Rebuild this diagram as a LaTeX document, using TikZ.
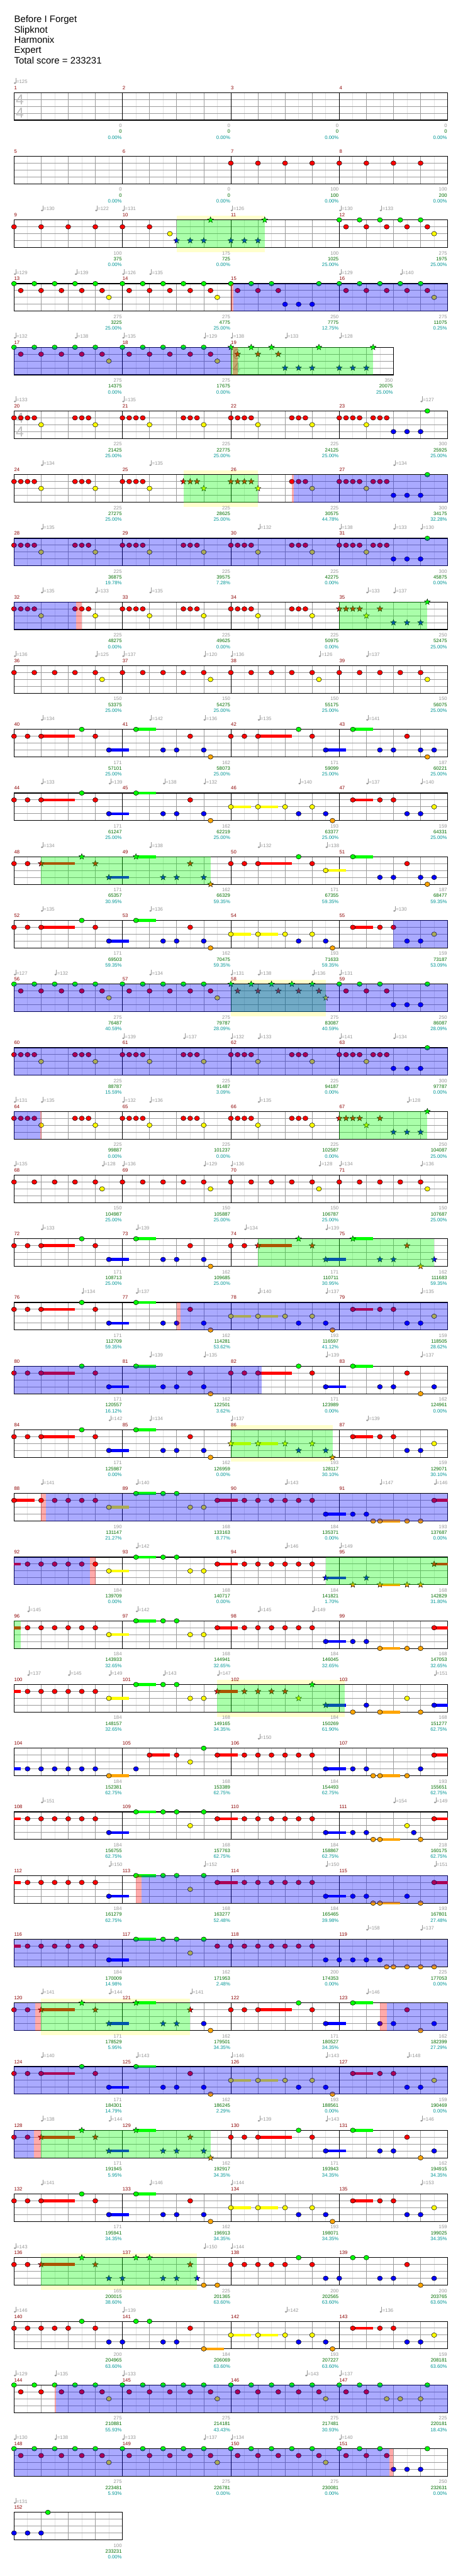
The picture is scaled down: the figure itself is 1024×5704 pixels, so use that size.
\documentclass[tikz,border=0pt]{standalone}
\usepackage{fontspec}
\setmainfont{Liberation Sans}
\usetikzlibrary{shapes.geometric}

\definecolor{c0}{RGB}{0,255,0}
\definecolor{c1}{RGB}{255,0,0}
\definecolor{c2}{RGB}{255,255,0}
\definecolor{c3}{RGB}{0,0,255}
\definecolor{c4}{RGB}{255,165,0}
\definecolor{gridlight}{RGB}{226,226,226}
\definecolor{gridmid}{RGB}{155,155,155}
\definecolor{measred}{RGB}{140,0,0}
\definecolor{labelgray}{RGB}{150,150,150}
\definecolor{scoregreen}{RGB}{0,110,0}
\definecolor{pcteal}{RGB}{0,150,150}
\definecolor{tsiggray}{RGB}{190,190,190}
\definecolor{bandyellow}{RGB}{255,255,204}

\tikzset{
  note/.style={ellipse, draw=black, line width=0.35pt, inner sep=0pt, minimum width=5.6pt, minimum height=5.1pt},
  spnote/.style={star, star points=5, star point ratio=2.3, draw=black, line width=0.3pt, inner sep=0pt, minimum size=6.8pt},
  halfline/.style={draw=gridlight, line width=0.5pt},
  beatline/.style={draw=gridmid, line width=0.5pt},
  laneline/.style={draw=gridmid, line width=0.7pt},
  barline/.style={draw=black, line width=0.5pt},
  border/.style={draw=black, line width=0.75pt},
  small/.style={inner sep=0pt, font=\fontsize{5.4}{6}\selectfont},
  mnum/.style={small, anchor=base west, text=measred},
  tempo/.style={small, anchor=base west, text=labelgray},
  sgray/.style={small, anchor=base east, text=labelgray},
  sgreen/.style={small, anchor=base east, text=scoregreen},
  spct/.style={small, anchor=base east, text=pcteal},
  title/.style={anchor=base west, inner sep=0pt, font=\fontsize{10.4}{12}\selectfont},
  tsig/.style={inner sep=0pt, text=tsiggray, font=\fontsize{16}{16}\selectfont},
  odfill/.style={fill=c3, fill opacity=0.333},
  spfill/.style={fill=c0, fill opacity=0.333},
  actfill/.style={fill=c1, fill opacity=0.333},
  bandfill/.style={fill=bandyellow}
}

% note patterns, beat/lane (lane 0 = green ... 4 = orange)
\newcommand{\pA}{0/0,0.75/0,1.5/0,2.25/0,3/0,0.25/1,1/1,1.75/1,2.5/1,3.25/1,3.5/2}
\newcommand{\pB}{0/1,0.25/1,0.5/1,0.75/1,1/2,2.25/1,2.5/1,2.75/1,3/2}
\newcommand{\pBa}{0/1,0.25/1,0.5/1,0.75/1,1/2}
\newcommand{\pBb}{2.25/1,2.5/1,2.75/1,3/2}
\newcommand{\pC}{0/1,0.25/1,0.5/1,0.75/1,1/2,1.25/1,1.5/1,1.75/1,2/3,2.5/3,3/3,3.25/0}
\newcommand{\pD}{0/1,0.75/1,1.5/1,2.25/1,3/1,3.25/2}
\newcommand{\pG}{0/0,0.75/0,1.5/0,0.25/1,1/1,1.75/1,2/3,2.5/3,3/3,3.25/0}
\newcommand{\pS}{0/1,0.25/1,0.5/1,0.75/1,1/2,1.5/1,2/3,2.5/3,3/3,3.25/0}
\newcommand{\pEa}{0/1,0.5/1}
\newcommand{\pEb}{1/1,2.5/0,3/1,3.5/3,4.5/0,5.5/3,6/3,6.5/1,7/3,7.25/4}
\newcommand{\pEc}{1/1,2.5/0,3/1,3.5/3,4.5/0,5.5/3,6/3,6.5/1,7/4,7.5/3}
\newcommand{\pEs}{1/1/2.25,3.5/3/4.25,4.5/0/5.25}
\newcommand{\pFa}{0/2,1/2,2/2,2.5/3,3/2,3.5/3,3.75/4}
\newcommand{\pFb}{4.5/1,5.5/1,6/1,6.5/3,7/3,7.5/2}
\newcommand{\pFs}{0/2/0.75,1/2/1.75,4.5/1/5.25}
\newcommand{\pH}{0.5/1,1/1,1.5/1,2/1,2.5/1,3/1,3.5/2,4.5/0,5.5/0,6/0,6.5/2,7/2,7.5/1,8.5/1,9/1,9.5/1,10/1,10.5/1,11/1,11.5/3,12.5/3,13/3,13.5/4,14.5/4,15/4,15.5/1}
\newcommand{\pHs}{0/1/0.25,3.5/2/4.25,4.5/0/5.25,7.5/1/8.25,11.5/3/12.25,13.5/4/14.25,15.5/1/16}

\newcommand{\rowY}[1]{\pgfmathsetmacro{\Y}{205+141*(#1-1)}}

% staff: row, beats, first measure
\newcommand{\staffrow}[3]{%
  \rowY{#1}%
  \pgfmathsetmacro{\W}{31+60*#2}%
  \pgfmathtruncatemacro{\nh}{2*#2}%
  \pgfmathtruncatemacro{\nm}{floor(#2/4)}%
  \fill[white] (31,\Y) rectangle (\W,\Y+61);
  \foreach \i in {1,...,\nh} \draw[halfline] ({31+30*\i},\Y) -- ++(0,61);
  \foreach \i in {1,...,#2} \draw[beatline] ({31+60*\i},\Y) -- ++(0,61);
  \foreach \i in {1,2,3} \draw[laneline] (31,\Y+15.25*\i) -- (\W,\Y+15.25*\i);
  \foreach \i in {1,...,\nm} {
    \pgfmathtruncatemacro{\mn}{#3+\i-1}
    \draw[barline] ({31+240*(\i-1)},\Y) -- ++(0,61);
    \node[mnum, name=m\mn] at ({31+240*(\i-1)},\Y-7) {\mn};
  }
  \draw[border] (31,\Y) rectangle (\W,\Y+61);
}
\newcommand{\tsig}[4]{%
  \rowY{#1}%
  \node[tsig, name=ta#1] at ({44+60*#2},\Y+15.5) {#3};
  \node[tsig, name=tb#1] at ({44+60*#2},\Y+45.5) {#4};
}
% notes: row, offset, list
\newcommand{\nt}[3]{%
  \rowY{#1}%
  \edef\notelist{#3}%
  \foreach \pos/\lane [count=\ci] in \notelist
    \node[note, fill=c\lane, name=n#1x#2x\ci] at ({31+60*(#2+\pos)},{\Y+15.25*\lane}) {};
}
\newcommand{\st}[3]{%
  \rowY{#1}%
  \edef\notelist{#3}%
  \foreach \pos/\lane [count=\ci] in \notelist
    \node[spnote, fill=c\lane, name=s#1x#2x\ci] at ({31+60*(#2+\pos)},{\Y+15.25*\lane}) {};
}
\newcommand{\su}[3]{%
  \rowY{#1}%
  \edef\suslist{#3}%
  \foreach \pos/\lane/\sEnd in \suslist
    \fill[fill=c\lane] ({31+60*(#2+\pos)},{\Y+15.25*\lane-3.2}) rectangle ({31+60*(#2+\sEnd)},{\Y+15.25*\lane+3.2});
}
\newcommand{\pE}[2]{\su{#1}{#2}{\pEs}\nt{#1}{#2}{\pEa,\pEb}}
\newcommand{\pF}[2]{\su{#1}{#2}{\pFs}\nt{#1}{#2}{\pFa,\pFb}}
% overlays
\newcommand{\od}[3]{\rowY{#1}\fill[odfill] ({31+60*#2},\Y) rectangle ({31+60*#3},\Y+61);}
\newcommand{\spz}[3]{\rowY{#1}\fill[spfill] ({31+60*#2},\Y) rectangle ({31+60*#3},\Y+61);}
\newcommand{\act}[3]{\rowY{#1}\fill[actfill] ({31+60*#2},\Y) rectangle ({31+60*#3},\Y+61);}
\newcommand{\band}[3]{\rowY{#1}\fill[bandfill] ({31+60*#2},\Y-10) rectangle ({31+60*#3},\Y+71);}
% labels
\newcommand{\tempo}[2]{%
  \rowY{#1}%
  \edef\templist{#2}%
  \foreach \pos/\va [count=\ci] in \templist {
    \fill[labelgray] ({31+60*\pos+2},\Y-21) ellipse [x radius=1.3pt, y radius=0.95pt];
    \draw[labelgray, line width=0.4pt] ({31+60*\pos+3.9},\Y-21) -- ({31+60*\pos+3.9},\Y-32);
    \node[tempo, name=t#1x\ci] at ({31+60*\pos+5},\Y-20.5) {=\va};
  }
}
\newcommand{\scores}[2]{%
  \rowY{#1}%
  \edef\scorelist{#2}%
  \foreach \pos/\va/\vb/\vc [count=\ci] in \scorelist {
    \node[sgray, name=g#1x\ci] at ({31+60*\pos-1},\Y+77) {\va};
    \node[sgreen, name=p#1x\ci] at ({31+60*\pos-1},\Y+90) {\vb};
    \node[spct, name=q#1x\ci] at ({31+60*\pos-1},\Y+103) {\vc\%};
  }
}

\begin{document}
\begin{tikzpicture}[x=0.5pt, y=-0.5pt]
\useasboundingbox (0,0) rectangle (1024,5704);
\fill[white] (0,0) rectangle (1024,5704);

%--- header ---
\node[title, name=song] at (31,50) {Before I Forget};
\node[title, name=artist] at (31,72.5) {Slipknot};
\node[title, name=charter] at (31,95) {Harmonix};
\node[title, name=level] at (31,118) {Expert};
\node[title, name=total] at (31,141.5) {Total score = 233231};

%--- row 1: measures 1-4 ---
\staffrow{1}{16}{1}
\tsig{1}{0}{4}{4}
\tempo{1}{0/125}
\scores{1}{4/0/0/0.00,8/0/0/0.00,12/0/0/0.00,16/0/0/0.00}

%--- row 2 ---
\staffrow{2}{16}{5}
\nt{2}{8}{0/1,1/1,2/1,3/1,4/1,5/1,6/1,7/1}
\scores{2}{4/0/0/0.00,8/0/0/0.00,12/100/100/0.00,16/100/200/0.00}

%--- row 3 ---
\band{3}{6}{9.25}
\staffrow{3}{16}{9}
\nt{3}{0}{0/1,1/1,2/1,3/1,4/1,5/1,5.75/2}
\st{3}{0}{6/3,6.5/3,7/3,8/3,8.5/3,9/3,7.25/0,9.25/0}
\nt{3}{12}{\pA}
\spz{3}{6}{9.25}
\tempo{3}{1/130,3/122,4/131,8/126,12/130,13.5/133}
\scores{3}{4/100/375/0.00,8/175/725/0.00,12/100/1025/25.00,16/275/1975/25.00}

%--- row 4 ---
\staffrow{4}{16}{13}
\nt{4}{0}{\pA}\nt{4}{4}{\pA}\nt{4}{8}{\pG}\nt{4}{12}{\pA}
\act{4}{8}{8.1}\od{4}{8.1}{16}
\tempo{4}{0/129,2.25/139,4/126,5/135,12/129,14.25/140}
\scores{4}{4/275/3225/25.00,8/275/4775/25.00,12/250/7775/12.75,16/275/11075/0.25}

%--- row 5 (measure 19 in 6/4) ---
\staffrow{5}{14}{17}
\tsig{5}{8}{6}{4}
\nt{5}{0}{\pA}\nt{5}{4}{\pA}
\st{5}{8}{\pG,4/3,4.5/3,5/3,5.25/0}
\od{5}{0}{8}\spz{5}{8}{13.25}\act{5}{8.08}{8.25}
\tempo{5}{0/132,2.25/138,4/135,7/129,8/138,10/133,12/128}
\scores{5}{4/275/14375/0.00,8/275/17675/0.00,14/350/20075/25.00}

%--- row 6 ---
\staffrow{6}{16}{20}
\tsig{6}{0}{4}{4}
\nt{6}{0}{\pB}\nt{6}{4}{\pB}\nt{6}{8}{\pB}\nt{6}{12}{\pC}
\tempo{6}{0/133,4/135,15/127}
\scores{6}{4/225/21425/25.00,8/225/22775/25.00,12/225/24125/25.00,16/300/25925/25.00}

%--- row 7 ---
\band{7}{6.25}{9}
\staffrow{7}{16}{24}
\nt{7}{0}{\pB}\nt{7}{4}{\pBa}\st{7}{4}{\pBb}\st{7}{8}{\pBa}\nt{7}{8}{\pBb}\nt{7}{12}{\pC}
\spz{7}{6.25}{9}\act{7}{10.25}{10.33}\od{7}{10.33}{16}
\tempo{7}{1/134,5/135,14/134}
\scores{7}{4/225/27275/25.00,8/225/28625/25.00,12/225/30575/44.78,16/300/34175/32.28}

%--- row 8 ---
\staffrow{8}{16}{28}
\nt{8}{0}{\pB}\nt{8}{4}{\pB}\nt{8}{8}{\pB}\nt{8}{12}{\pC}
\od{8}{0}{16}
\tempo{8}{1/135,9/132,12/138,14/133,15/130}
\scores{8}{4/225/36875/19.78,8/225/39575/7.28,12/225/42275/0.00,16/300/45875/0.00}

%--- row 9 ---
\staffrow{9}{16}{32}
\nt{9}{0}{\pB}\nt{9}{4}{\pB}\nt{9}{8}{\pB}\st{9}{12}{\pS}
\spz{9}{12}{15.25}\od{9}{0}{2.3}\act{9}{2.3}{2.5}
\tempo{9}{1/135,3/133,5/135,13/133,14/137}
\scores{9}{4/225/48275/0.00,8/225/49625/0.00,12/225/50975/0.00,16/250/52475/25.00}

%--- row 10 ---
\staffrow{10}{16}{36}
\nt{10}{0}{\pD}\nt{10}{4}{\pD}\nt{10}{8}{\pD}\nt{10}{12}{\pD}
\tempo{10}{0/136,3/125,4/137,7/120,8/136,11.25/126,13/137}
\scores{10}{4/150/53375/25.00,8/150/54275/25.00,12/150/55175/25.00,16/150/56075/25.00}

%--- row 11 ---
\staffrow{11}{16}{40}
\pE{11}{0}\pE{11}{8}\nt{11}{8}{7.5/3}
\tempo{11}{1/134,5/142,7/136,9/135,13/141}
\scores{11}{4/171/57101/25.00,8/162/58073/25.00,12/171/59099/25.00,16/187/60221/25.00}

%--- row 12 ---
\staffrow{12}{16}{44}
\pE{12}{0}\pF{12}{8}
\tempo{12}{1/133,3.5/139,5.5/138,7/132,10.5/140,13/137,15/140}
\scores{12}{4/171/61247/25.00,8/162/62219/25.00,12/193/63377/25.00,16/159/64331/25.00}

%--- row 13 ---
\staffrow{13}{16}{48}
\su{13}{0}{\pEs}\nt{13}{0}{\pEa}\st{13}{0}{\pEb}
\su{13}{8}{1/1/2.25,3.5/2/4.25,4.5/0/5.25}
\nt{13}{8}{\pEa,1/1,2.5/0,3/1,3.5/2,4.5/0,5.5/3,6/3,6.5/1,7/3,7.25/4,7.5/3}
\spz{13}{1}{7.25}
\tempo{13}{1/134,5/138,9/132,11.5/138}
\scores{13}{4/171/65357/30.95,8/162/66329/59.35,12/171/67355/59.35,16/187/68477/59.35}

%--- row 14 ---
\staffrow{14}{16}{52}
\pE{14}{0}\pF{14}{8}
\od{14}{14}{16}
\tempo{14}{1/135,5/136,14/130}
\scores{14}{4/171/69503/59.35,8/162/70475/59.35,12/193/71633/59.35,16/159/73187/53.09}

%--- row 15 ---
\band{15}{8}{11.5}
\staffrow{15}{16}{56}
\nt{15}{0}{\pA}\nt{15}{4}{\pA}\st{15}{8}{\pA}\nt{15}{12}{\pG}
\spz{15}{8}{11.5}\od{15}{0}{16}
\tempo{15}{0/127,1.5/132,5/134,8/131,9/138,11/136,12/131}
\scores{15}{4/275/76487/40.59,8/275/79787/28.09,12/275/83087/40.59,16/250/86087/28.09}

%--- row 16 ---
\staffrow{16}{16}{60}
\nt{16}{0}{\pB}\nt{16}{4}{\pB}\nt{16}{8}{\pB}\nt{16}{12}{\pC}
\od{16}{0}{16}
\tempo{16}{4/139,6.25/137,8/132,9/133,12/141,14/134}
\scores{16}{4/225/88787/15.59,8/225/91487/3.09,12/225/94187/0.00,16/300/97787/0.00}

%--- row 17 ---
\staffrow{17}{16}{64}
\nt{17}{0}{\pB}\nt{17}{4}{\pB}\nt{17}{8}{\pB}\st{17}{12}{\pS}
\od{17}{0}{0.98}\act{17}{0.98}{1.02}\spz{17}{12}{15.25}
\tempo{17}{0/131,1/135,4/132,5/136,9/135,14.5/128}
\scores{17}{4/225/99887/0.00,8/225/101237/0.00,12/225/102587/0.00,16/250/104087/25.00}

%--- row 18 ---
\staffrow{18}{16}{68}
\nt{18}{0}{\pD}\nt{18}{4}{\pD}\nt{18}{8}{\pD}\nt{18}{12}{\pD}
\tempo{18}{0/135,3.25/128,4/136,7/129,8/136,11.25/128,12/134,15/136}
\scores{18}{4/150/104987/25.00,8/150/105887/25.00,12/150/106787/25.00,16/150/107687/25.00}

%--- row 19 ---
\staffrow{19}{16}{72}
\pE{19}{0}
\su{19}{8}{\pEs}\nt{19}{8}{\pEa}\st{19}{8}{\pEc}
\spz{19}{9}{15.5}
\tempo{19}{1/133,4.5/139,8.5/134,11.5/139}
\scores{19}{4/171/108713/25.00,8/162/109685/25.00,12/171/110711/30.95,16/162/111683/59.35}

%--- row 20 ---
\staffrow{20}{16}{76}
\pE{20}{0}\pF{20}{8}
\act{20}{6}{6.15}\od{20}{6.15}{16}
\tempo{20}{2.5/134,4.5/137,9/140,11.5/137,15/135}
\scores{20}{4/171/112709/59.35,8/162/114281/53.62,12/193/116597/41.12,16/159/118505/28.62}

%--- row 21 ---
\staffrow{21}{16}{80}
\pE{21}{0}\su{21}{8}{\pEs}\nt{21}{8}{\pEa,\pEc}
\od{21}{0}{9.13}
\tempo{21}{5/139,7/135,11.5/139,15/137}
\scores{21}{4/171/120557/16.12,8/162/122501/3.62,12/171/123989/0.00,16/162/124961/0.00}

%--- row 22 ---
\band{22}{8}{11.75}
\staffrow{22}{16}{84}
\pE{22}{0}\su{22}{8}{\pFs}\st{22}{8}{\pFa}\nt{22}{8}{\pFb}
\spz{22}{8}{11.75}
\tempo{22}{3.5/142,5/134,8/137,13/139}
\scores{22}{4/171/125987/0.00,8/162/126959/0.00,12/193/128117/30.10,16/159/129071/30.10}

%--- row 23 ---
\staffrow{23}{16}{88}
\su{23}{0}{0/1/0.75,3.5/2/4.25,4.5/0/5.25,7.5/1/8.25,11.5/3/12.25,13.5/4/14.25,15.5/1/16}
\nt{23}{0}{0/1,1/1,1.5/1,2/1,2.5/1,3/1,3.5/2,4.5/0,5.5/0,6/0,6.5/2,7/2,7.5/1,8.5/1,9/1,9.5/1,10/1,10.5/1,11/1,11.5/3,12.5/3,13/3,13.25/4,13.5/4,14.5/4,15/4,15.5/1}
\act{23}{1}{1.17}\od{23}{1.17}{16}
\tempo{23}{1/141,4.5/140,10/143,13.5/147,15.5/146}
\scores{23}{4/190/131147/21.27,8/168/133163/8.77,12/184/135371/0.00,16/193/137687/0.00}

%--- row 24 ---
\staffrow{24}{16}{92}
\su{24}{0}{\pHs}
\nt{24}{0}{0.5/1,1/1,1.5/1,2/1,2.5/1,3/1,3.5/2,4.5/0,5.5/0,6/0,6.5/2,7/2,7.5/1,8.5/1,9/1,9.5/1,10/1,10.5/1,11/1}
\st{24}{0}{11.5/3,12.5/4,13/3,13.5/4,14.5/4,15/4,15.5/1}
\od{24}{0}{2.8}\act{24}{2.8}{3}\spz{24}{11.5}{16}
\tempo{24}{4.5/142,10/146,12/149}
\scores{24}{4/184/139709/0.00,8/168/140717/0.00,12/184/141821/1.70,16/168/142829/31.80}

%--- row 25 ---
\staffrow{25}{16}{96}
\su{25}{0}{\pHs}\nt{25}{0}{\pH}
\spz{25}{0}{0.25}
\tempo{25}{0.5/145,4.5/142,9/145,11/149}
\scores{25}{4/184/143933/32.65,8/168/144941/32.65,12/184/146045/32.65,16/168/147053/32.65}

%--- row 26 ---
\band{26}{7.5}{12.2}
\staffrow{26}{16}{100}
\su{26}{0}{0/1/0.25,3.5/2/4.25,4.5/0/5.25,7.5/1/8.25,11.5/3/12.25,13.5/4/14.25,15.5/3/16}
\nt{26}{0}{0.5/1,1/1,1.5/1,2/1,2.5/1,3/1,3.5/2,4.5/0,5.5/0,6/0,6.5/2,7/2,12.5/4,13/3,13.5/4,14.5/2,15/4,15.5/3}
\st{26}{0}{7.5/1,8.5/1,9/1,9.5/1,10/1,10.5/2,11/0,11.5/3}
\spz{26}{7.5}{12.2}
\tempo{26}{0.5/137,2/145,3.5/149,5.5/143,7.5/147,15.5/151}
\scores{26}{4/184/148157/32.65,8/168/149165/34.35,12/184/150269/61.90,16/168/151277/62.75}

%--- row 27 ---
\staffrow{27}{16}{104}
\su{27}{0}{0/3/0.25,3.5/4/4.25,5/1/5.75,7.5/1/8.25,11.5/3/12.25,13.5/4/14.25,15.5/1/16}
\nt{27}{0}{0.5/3,1/3,1.5/3,2/3,2.5/3,3/3,3.5/4,4.5/3,5/1,6/1,6.5/2,7/0,7.5/1,8.5/1,9/1,9.5/1,10/1,10.5/1,11/1,11.5/3,12.5/3,13/3,13.25/4,13.5/4,14.5/4,15/3,15.5/1}
\tempo{27}{9/150}
\scores{27}{4/184/152381/62.75,8/168/153389/62.75,12/184/154493/62.75,16/193/155651/62.75}

%--- row 28 ---
\staffrow{28}{16}{108}
\su{28}{0}{0/1/0.25,3.5/3/4.25,4.5/0/5.25,7.5/1/8.25,11.5/3/12.25,13.5/4/14.25,15.5/1/16}
\nt{28}{0}{0.5/1,1/1,1.5/1,2/1,2.5/1,3/1,3.5/3,4.5/0,5.5/0,6/0,6.5/2,7/0,7.5/1,8.5/1,9/1,9.5/1,10/1,10.5/1,11/1,11.5/3,12.5/3,13/3,13.25/4,13.5/4,14.5/2,14.75/3,15/4,15.5/1}
\tempo{28}{1/151,14/154,15.5/149}
\scores{28}{4/184/156755/62.75,8/168/157763/62.75,12/184/158867/62.75,16/218/160175/62.75}

%--- row 29 ---
\staffrow{29}{16}{112}
\su{29}{0}{0/1/0.25,3.5/3/4.25,4.5/0/5.25,7.5/1/8.25,11.5/3/12.25,13.5/4/14.25,15.5/1/16}
\nt{29}{0}{0.5/1,1/1,1.5/1,2/1,2.5/1,3/1,3.5/3,4.5/0,5.5/0,6/0,6.5/2,7/0,7.5/1,8.5/1,9/1,9.5/1,10/1,10.5/1,11/1,11.5/3,12.5/3,13/3,13.25/4,13.5/4,14.5/3,15/4,15.5/1}
\act{29}{4.5}{4.7}\od{29}{4.7}{16}
\tempo{29}{3.5/150,7/152,11.5/150,15.5/151}
\scores{29}{4/184/161279/62.75,8/168/163277/52.48,12/184/165465/39.98,16/193/167801/27.48}

%--- row 30 ---
\staffrow{30}{16}{116}
\su{30}{0}{0/1/0.25,3.5/3/4.25,4.5/0/5.25}
\nt{30}{0}{0.5/1,1/1,1.5/1,2/1,2.5/1,3/1,3.5/3,4.5/0,5.5/0,6/0,6.5/2,7/0,7.5/1,8/1,8.5/1,9/1,9.5/1,10/1,10.5/1,11/1,11.5/3,12/3,12.5/3,13/3,13.5/3,13.75/4,14/4,14.5/4,15/4,15.5/4}
\od{30}{0}{16}
\tempo{30}{13/158,15/137}
\scores{30}{4/184/170009/14.98,8/162/171953/2.48,12/200/174353/0.00,16/225/177053/0.00}

%--- row 31 ---
\band{31}{1}{6.5}
\staffrow{31}{16}{120}
\su{31}{0}{\pEs}\nt{31}{0}{\pEa,7/3,7.25/4}\st{31}{0}{1/1,2.5/0,3/1,3.5/3,4.5/0,5.5/3,6/3,6.5/1}
\su{31}{8}{\pEs}\nt{31}{8}{\pEa,\pEc}
\od{31}{0}{0.78}\act{31}{0.78}{1}\spz{31}{1}{6.5}\act{31}{13.5}{13.75}\od{31}{13.75}{16}
\tempo{31}{1/141,3.5/144,6.5/141,13/146}
\scores{31}{4/171/178529/5.95,8/162/179501/34.35,12/171/180527/34.35,16/162/182399/27.29}

%--- row 32 ---
\staffrow{32}{16}{124}
\pE{32}{0}\pF{32}{8}
\od{32}{0}{16}
\tempo{32}{1/140,4.5/143,8/146,11.5/143,14.5/148}
\scores{32}{4/171/184301/14.79,8/162/186245/2.29,12/193/188561/0.00,16/159/190469/0.00}

%--- row 33 ---
\staffrow{33}{16}{128}
\su{33}{0}{\pEs}\nt{33}{0}{\pEa}\st{33}{0}{\pEb}
\su{33}{8}{\pEs}\nt{33}{8}{\pEa,\pEc}
\od{33}{0}{0.73}\act{33}{0.73}{1}\spz{33}{1}{7.25}
\tempo{33}{1/138,3.5/144,9/139,11.5/143,15/146}
\scores{33}{4/171/191945/5.95,8/162/192917/34.35,12/171/193943/34.35,16/162/194915/34.35}

%--- row 34 ---
\staffrow{34}{16}{132}
\pE{34}{0}\pF{34}{8}
\tempo{34}{1/141,5/146,8/144,15/153}
\scores{34}{4/171/195941/34.35,8/162/196913/34.35,12/193/198071/34.35,16/159/199025/34.35}

%--- row 35 ---
\band{35}{1}{6.75}
\staffrow{35}{16}{136}
\su{35}{0}{1/1/2.25}
\nt{35}{0}{0/1,0.5/1,7/4,7.5/4}
\st{35}{0}{1/1,2.5/0,3/1,3.5/3,4/3,4.5/0,5/0,5.5/3,6/3,6.5/1,6.75/3}
\nt{35}{8}{0/1,0.5/1,1/1,1.5/1,2/1,2.5/0,3/1,3.5/3,4/3,4.5/0,5/0,5.5/3,6/3,6.5/1,7/4,7.5/3}
\spz{35}{1}{6.75}
\tempo{35}{0/143,7/150,8/144}
\scores{35}{4/165/200015/38.60,8/225/201365/63.60,12/200/202565/63.60,16/200/203765/63.60}

%--- row 36 ---
\staffrow{36}{16}{140}
\su{36}{0}{7/4/7.75}
\nt{36}{0}{0/1,0.5/1,1/1,1.5/1,2/1,2.5/0,3/1,3.5/3,4/3,4.5/0,5/0,5.5/3,6/3,6.5/1,7/4}
\pF{36}{8}
\tempo{36}{0/146,4/139,10/142,13.5/136}
\scores{36}{4/200/204965/63.60,8/184/206069/63.60,12/193/207227/63.60,16/159/208181/63.60}

%--- row 37 ---
\staffrow{37}{16}{144}
\nt{37}{0}{\pA}\nt{37}{4}{\pA}\nt{37}{8}{\pA}
\nt{37}{12}{0/0,0.75/0,1.5/0,0.25/1,1/1,1.75/2,2.25/2,3/2,3.25/0}
\act{37}{1.5}{1.54}\od{37}{1.54}{16}
\tempo{37}{0/129,1.5/135,4/133,10.75/143,12/137}
\scores{37}{4/275/210881/55.93,8/275/214181/43.43,12/275/217481/30.93,16/225/220181/18.43}

%--- row 38 ---
\staffrow{38}{16}{148}
\nt{38}{0}{\pA}\nt{38}{4}{\pA}\nt{38}{8}{\pA}\nt{38}{12}{\pG}
\od{38}{0}{13.85}\act{38}{13.85}{14}
\tempo{38}{0/130,1.5/138,4/133,7/137,8/134,12/140}
\scores{38}{4/275/223481/5.93,8/275/226781/0.00,12/275/230081/0.00,16/250/232631/0.00}

%--- row 39: last measure ---
\staffrow{39}{4}{152}
\nt{39}{0}{0/3,0.5/3,1/3,1.25/0}
\tempo{39}{0/131}
\scores{39}{4/100/233231/0.00}
\end{tikzpicture}
\end{document}
